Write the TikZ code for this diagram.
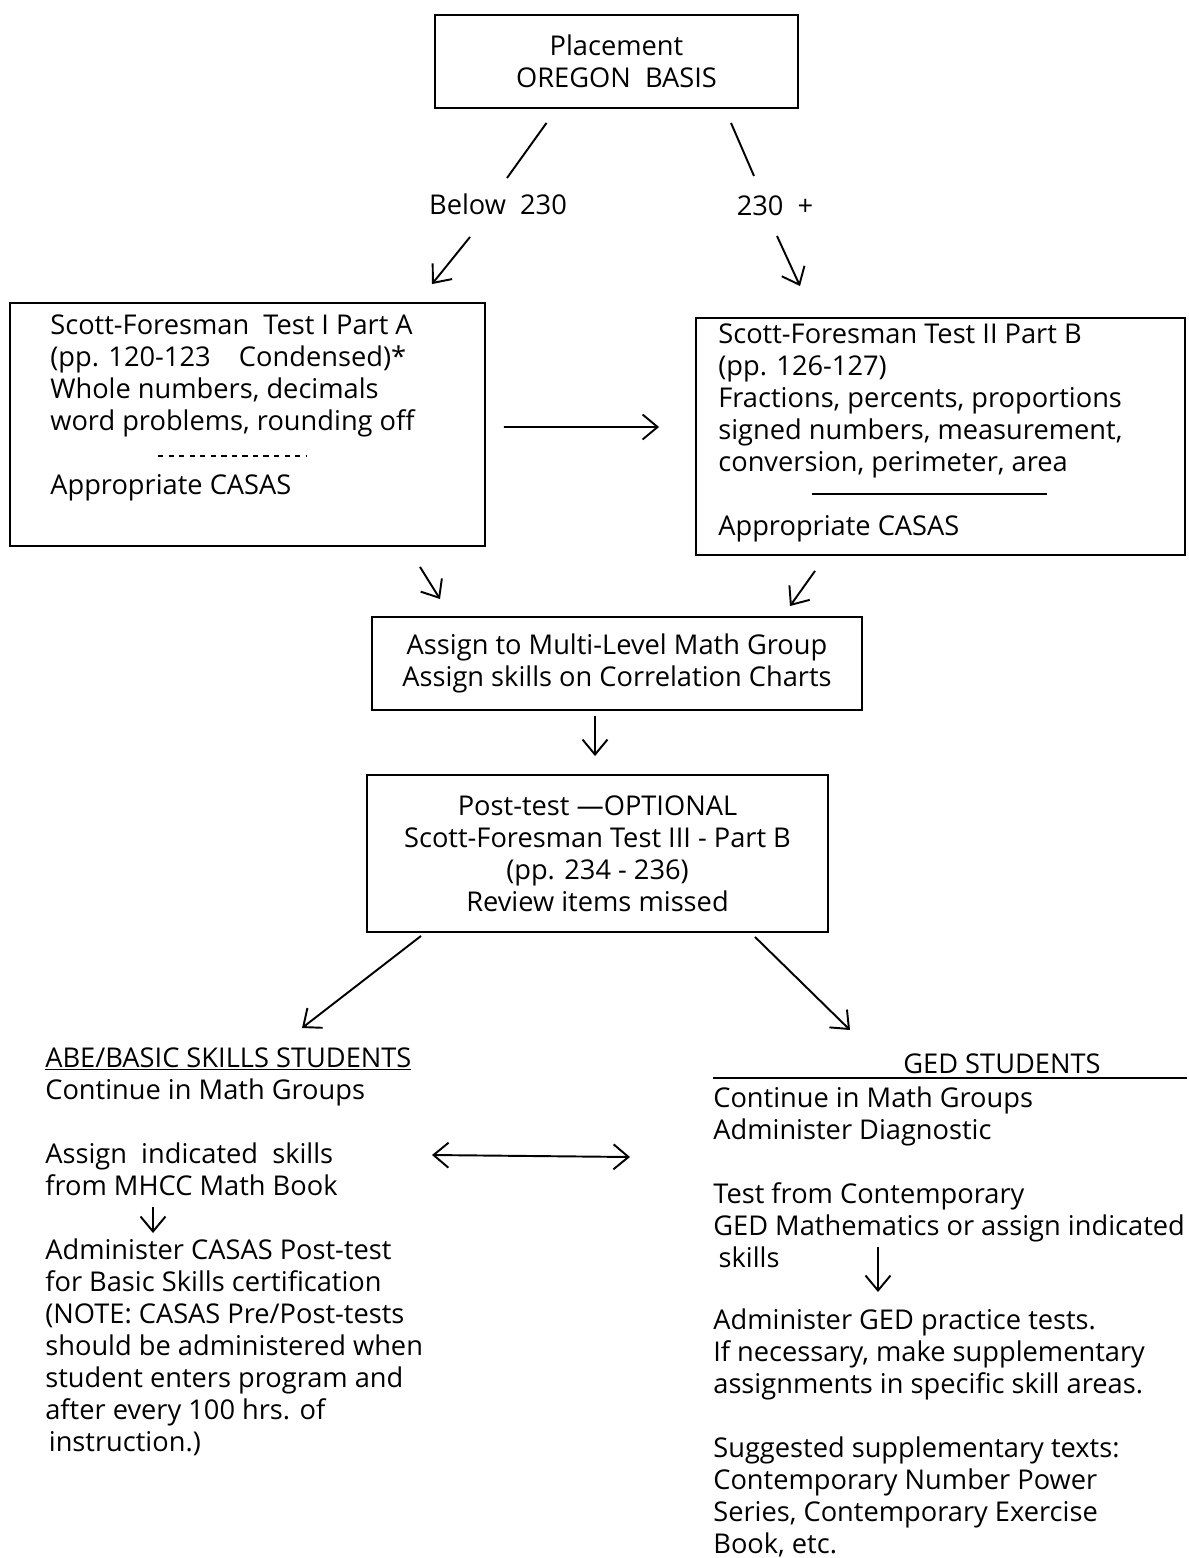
\documentclass[tikz,border=0pt]{standalone}
\usepackage{fontspec}
\setmainfont{Open Sans}
\usetikzlibrary{calc,arrows.meta}

\begin{document}
\begin{tikzpicture}[x=0.02cm,y=-0.02cm,
    font=\fontsize{15.5}{18.2}\selectfont,
    box/.style={draw, line width=1.1pt, align=center},
    txt/.style={inner sep=0pt, align=left, anchor=base west},
    arr/.style={line width=1.1pt, -{Straight Barb[length=0.3cm,width=0.5cm]}}]
    \useasboundingbox (0,0) rectangle (1189,1558);
    \node[box, minimum width=7.26cm, minimum height=1.86cm] at (616.5,61.5) (place) {Placement\\OREGON\ \ BASIS};
    \node[inner sep=0pt] at (498,204) (below) {Below\ \ 230};
    \node[inner sep=0pt] at (775,206) (over) {230\ \ +};
    \node[box, minimum width=9.5cm, minimum height=4.86cm] at (247.5,424.5) (sfA) {};
    \node[txt] at (50,494) (sfAtext) {Scott-Foresman\ \ Test I Part A\\(pp. 120-123\ \ \ \ Condensed)*\\Whole numbers, decimals\\word problems, rounding off\\~\\Appropriate CASAS};
    \node[box, minimum width=9.78cm, minimum height=4.74cm] at (940.5,436.5) (sfB) {};
    \node[txt] at (718,535) (sfBtext) {Scott-Foresman Test II Part B\\(pp. 126-127)\\Fractions, percents, proportions\\signed numbers, measurement,\\conversion, perimeter, area\\~\\Appropriate CASAS};
    \node[box, minimum width=9.8cm, minimum height=1.86cm] at (617,663.5) (group) {Assign to Multi-Level Math Group\\Assign skills on Correlation Charts};
    \node[box, minimum width=9.22cm, minimum height=3.14cm] at (597.5,853.5) (post) {Post-test ---OPTIONAL\\Scott-Foresman Test III - Part B\\(pp. 234 - 236)\\Review items missed};
    \node[txt] at (45,1195) (abetop) {\underline{ABE/BASIC SKILLS STUDENTS}\\Continue in Math Groups\\~\\Assign\ \ indicated\ \ skills\\from MHCC Math Book};
    \node[txt] at (45,1451) (abebottom) {Administer CASAS Post-test\\for Basic Skills certification\\(NOTE: CASAS Pre/Post-tests\\should be administered when\\student enters program and\\after every 100 hrs. of\\\hspace{2pt}instruction.)};
    \node[inner sep=0pt, anchor=base] at (1002,1073) (gedhead) {GED STUDENTS};
    \node[txt] at (713,1267) (gedtop) {Continue in Math Groups\\Administer Diagnostic\\~\\Test from Contemporary\\GED Mathematics or assign indicated\\\hspace{3pt}skills};
    \node[txt] at (713,1553) (gedbottom) {Administer GED practice tests.\\If necessary, make supplementary\\assignments in specific skill areas.\\~\\Suggested supplementary texts:\\Contemporary Number Power\\Series, Contemporary Exercise\\Book, etc.};
    \draw[dashed, line width=0.8pt] ($(sfA)+(-89.5,31.5)$) -- ($(sfA)+(58.5,31.5)$);
    \draw[line width=1pt] ($(sfB)+(-128.5,57.5)$) -- ($(sfB)+(106.5,57.5)$);
    \draw[line width=1pt] ($(gedhead.base)+(-289,5)$) -- ($(gedhead.base)+(185,5)$);
    \draw[line width=1.1pt] ($(place.south)+(-70,14)$) -- ($(below)+(9,-26)$);
    \draw[arr] ($(below)+(-28,33)$) -- ($(sfA.north)+(184.5,-18)$);
    \draw[line width=1.1pt] ($(place.south)+(114.5,14)$) -- ($(over)+(-21,-30)$);
    \draw[arr] ($(over)+(2,30)$) -- ($(sfB.north)+(-140.5,-31)$);
    \draw[arr] ($(sfA.east)+(18,2.5)$) -- ($(sfB.west)+(-36,-9.5)$);
    \draw[arr] ($(sfA.south)+(172.5,20)$) -- ($(group.north)+(-177,-17)$);
    \draw[arr] ($(sfB.south)+(-125.5,15)$) -- ($(group.north)+(173,-10)$);
    \draw[arr] ($(group.south)+(-22,5)$) -- ($(post.north)+(-2.5,-18)$);
    \draw[arr] ($(post.south)+(-176.5,3)$) -- ($(abetop.base west)+(257,-167)$);
    \draw[arr] ($(post.south)+(157.5,4)$) -- ($(gedhead.base)+(-152,-43)$);
    \draw[arr, {Straight Barb[length=0.3cm,width=0.5cm]}-{Straight Barb[length=0.3cm,width=0.5cm]}] ($(abetop.base west)+(387,-40)$) -- ($(gedtop.base west)+(-83,-110)$);
    \draw[arr] ($(abetop.base west)+(108,12)$) -- ($(abebottom.base west)+(108,-218)$);
    \draw[arr] ($(gedtop.base west)+(165,-20)$) -- ($(gedbottom.base west)+(165,-261)$);
\end{tikzpicture}
\end{document}
